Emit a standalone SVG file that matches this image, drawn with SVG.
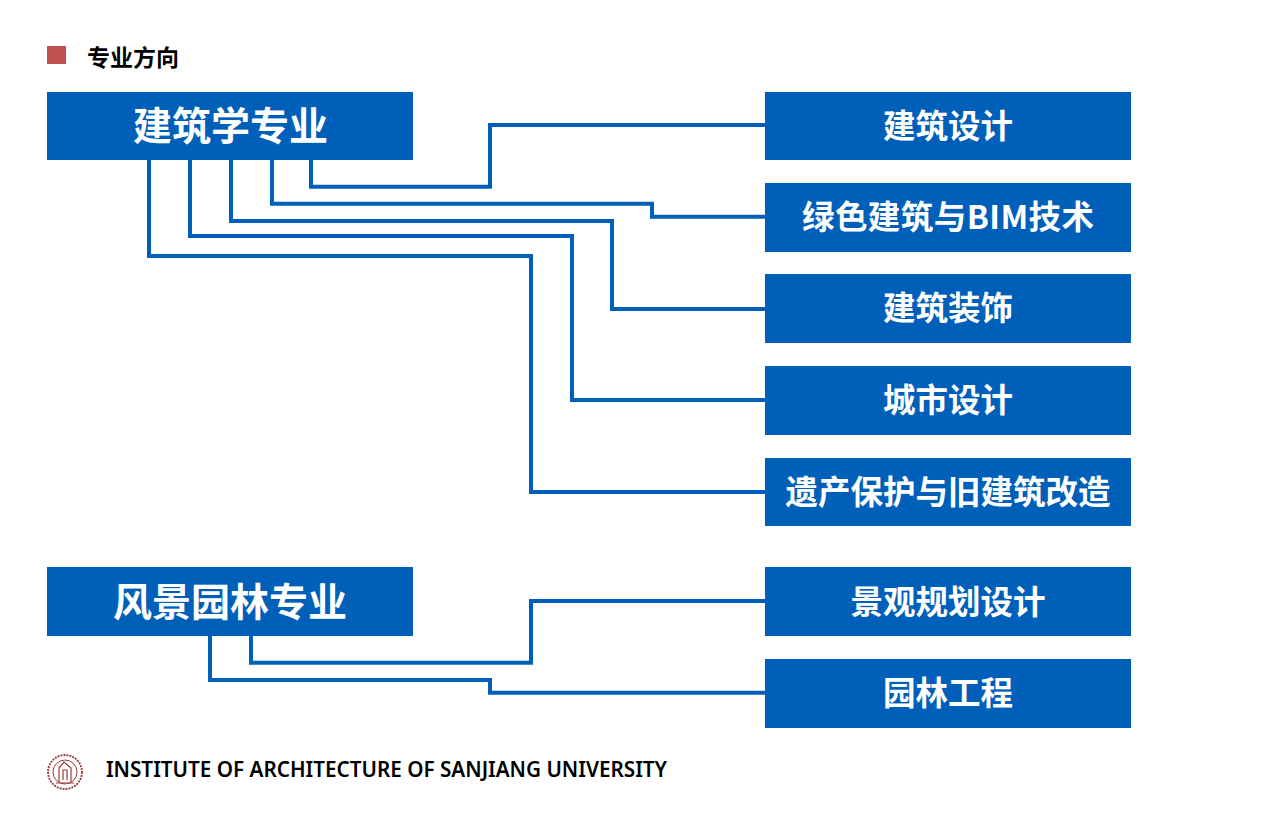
<svg xmlns="http://www.w3.org/2000/svg" width="1269" height="824" viewBox="0 0 1269 824">
<style>
.box{fill:#0060b9}
.c{fill:none;stroke:#0060b9;stroke-width:4}
text{font-family:"Noto Sans CJK SC","Noto Sans",sans-serif;font-weight:700;text-anchor:middle}
.w{fill:#fff}
.m{font-size:39px}
.s{font-size:32.500px}
.seal{fill:none;stroke:#9c3a38}
</style>
<rect width="1269" height="824" fill="#fff"/>
<g id="header"><rect x="47" y="46" width="19" height="18" fill="#c0504d"/>
<text x="133" y="65.500" font-size="23" fill="#000">专业方向</text></g>
<g id="connectors">
<path class="c" d="M311 160V186.700H490V125H765"/>
<path class="c" d="M272 160V203.800H652V216.700H765"/>
<path class="c" d="M231 160V221H612V309H765"/>
<path class="c" d="M190 160V236H572V400H765"/>
<path class="c" d="M149 160V256H531V492H765"/>
<path class="c" d="M251 636V662.700H531V601H765"/>
<path class="c" d="M210 636V680H490V692.700H765"/>
</g>
<g id="n1"><rect class="box" x="47" y="92" width="366" height="68"/><text class="w m" x="230.500" y="140">建筑学专业</text></g>
<g id="n2"><rect class="box" x="47" y="567" width="366" height="69"/><text class="w m" x="230" y="616">风景园林专业</text></g>
<g id="n3"><rect class="box" x="765" y="92" width="366" height="68"/><text class="w s" x="948" y="138">建筑设计</text></g>
<g id="n4"><rect class="box" x="765" y="183" width="366" height="69"/><text class="w s" x="948" y="229" textLength="292">绿色建筑与BIM技术</text></g>
<g id="n5"><rect class="box" x="765" y="274" width="366" height="69"/><text class="w s" x="948" y="320">建筑装饰</text></g>
<g id="n6"><rect class="box" x="765" y="366" width="366" height="69"/><text class="w s" x="948" y="412">城市设计</text></g>
<g id="n7"><rect class="box" x="765" y="458" width="366" height="68"/><text class="w s" x="948" y="504">遗产保护与旧建筑改造</text></g>
<g id="n8"><rect class="box" x="765" y="567" width="366" height="69"/><text class="w s" x="948" y="613.500">景观规划设计</text></g>
<g id="n9"><rect class="box" x="765" y="659" width="366" height="69"/><text class="w s" x="948" y="705">园林工程</text></g>
<g id="footer">
<g class="seal">
<circle cx="65" cy="772" r="17" stroke-width="1.8" stroke-dasharray="2 1"/>
<circle cx="65" cy="772" r="12" stroke-width="1"/>
<path d="M59 782V768L64 762L71 768V782M63 780V770H67V780M56 783H74" stroke-width="1.2"/>
</g>
<text x="386.500" y="777" font-size="20.700" style="font-family:'Noto Sans',sans-serif;font-weight:600" fill="#000">INSTITUTE OF ARCHITECTURE OF SANJIANG UNIVERSITY</text>
</g>
</svg>
